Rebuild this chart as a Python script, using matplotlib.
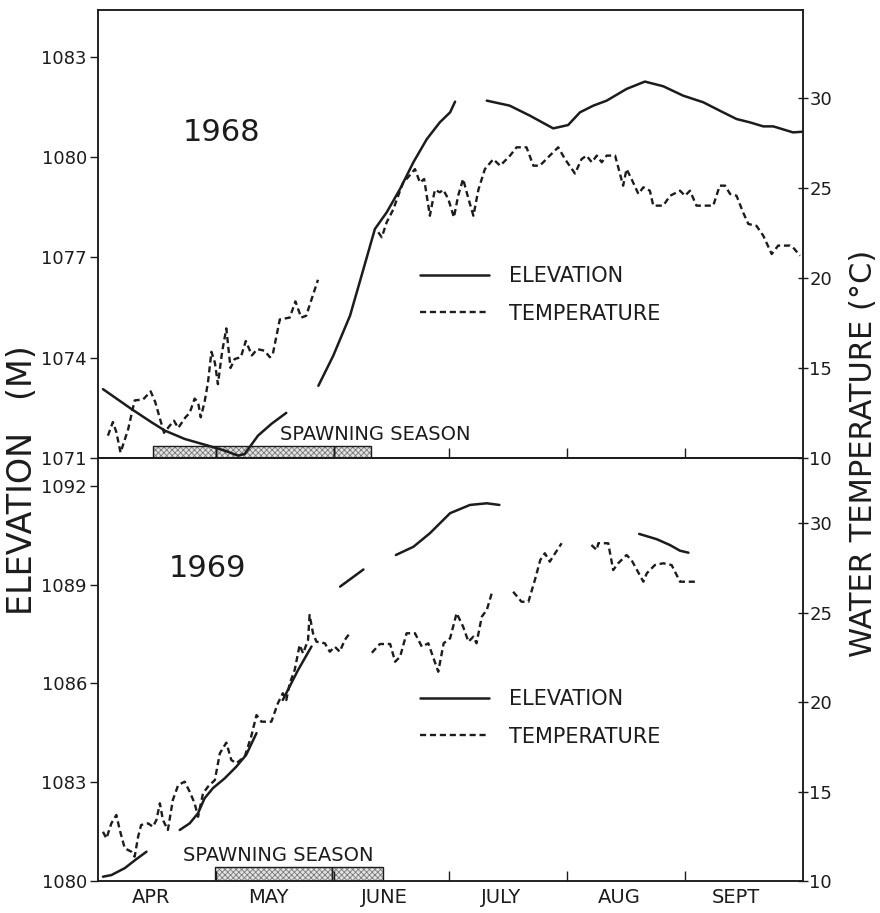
import numpy as np
import matplotlib
matplotlib.use("Agg")
import matplotlib.pyplot as plt

nan = np.nan

# x values: days after April 1
elev68_day = [0.5, 7.9, 13.2, 16.7, 21.9, 28.0, 32.4, 35.9, 37.6, 41.1, 44.6, 48.5, nan,
              56.9, 60.8, 65.2, 68.2, 71.7, 74.8, 78.3, 81.8, 85.3, 88.7, 91.4, 92.7, nan,
              101.0, 107.0, 112.3, 118.4, 122.3, 125.4, 128.9, 132.4, 137.6, 142.4,
              147.2, 152.4, 157.7, 162.0, 166.4, 169.9, 173.4, 176.0, 181.2, 183.7]
elev68 = [1073.06, 1072.47, 1072.07, 1071.82, 1071.57, 1071.37, 1071.22, 1071.07, 1071.12, 1071.67, 1072.02, 1072.35, nan,
          1073.16, 1074.06, 1075.26, 1076.45, 1077.85, 1078.35, 1079.05, 1079.85, 1080.54, 1081.04, 1081.34, 1081.66, nan,
          1081.69, 1081.54, 1081.24, 1080.86, 1080.96, 1081.34, 1081.54, 1081.69, 1082.04, 1082.26,
          1082.12, 1081.84, 1081.64, 1081.39, 1081.14, 1081.04, 1080.92, 1080.92, 1080.74, 1080.76]

temp68_day = [1.8, 3.1, 4.0, 5.1, 7.1, 8.8, 11.0, 13.0, 14.2, 15.4,
              16.5, 18.0, 19.1, 20.2, 22.1, 23.2, 24.5, 25.4, 26.1, 27.1,
              28.0, 28.9, 29.8, 30.6, 31.7, 32.8, 33.9, 35.0, 36.6, 37.9,
              39.5, 40.9, 42.8, 44.2, 45.0, 46.8, 49.4, 50.9, 52.4, 53.7,
              56.8, nan,
              72.6, 73.5, 74.8, 76.5, 77.8, 79.1, 80.4, 82.2, 83.5, 84.6,
              86.1, 87.4, 88.7, 89.6, 90.9, 92.4, 93.5, 94.8, 96.2, 97.5,
              98.8, 100.5, 102.7, 104.5, 107.1, 108.8, 111.4, 113.2, 114.9, 117.5,
              119.7, 121.5, 124.1, 125.8, 127.1, 128.5, 129.8, 131.1, 132.4, 134.6,
              136.7, 137.6, 138.9, 140.7, 142.0, 143.7, 144.6, 147.2, 149.0, 151.6,
              152.9, 154.2, 155.9, 160.3, 162.0, 163.4, 164.7, 166.4, 168.1, 169.5,
              171.6, 173.4, 175.6, 177.3, 180.4, 181.2, 183.0]
temp68 = [11.24, 12.0, 11.44, 10.3, 11.6, 13.2, 13.25, 13.7, 13.1, 12.2,
          11.4, 11.8, 12.07, 11.67, 12.26, 12.5, 13.3, 13.1, 12.26, 13.1,
          14.2, 15.9, 15.3, 14.1, 15.9, 17.2, 15.0, 15.5, 15.6, 16.5,
          15.7, 16.05, 15.96, 15.6, 15.8, 17.7, 17.8, 18.7, 17.8, 17.9,
          19.9, nan,
          22.54, 22.26, 23.1, 23.8, 24.57, 25.3, 25.6, 26.05, 25.3, 25.5,
          23.46, 24.9, 24.76, 24.9, 24.4, 23.37, 24.57, 25.5, 24.4, 23.46,
          24.9, 26.05, 26.6, 26.24, 26.8, 27.26, 27.26, 26.24, 26.24, 26.8,
          27.26, 26.6, 25.8, 26.6, 26.8, 26.43, 26.8, 26.43, 26.8, 26.8,
          25.13, 26.05, 25.5, 24.67, 25.04, 24.85, 24.02, 24.02, 24.57, 24.85,
          24.57, 24.85, 24.02, 24.02, 25.13, 25.13, 24.67, 24.57, 23.65, 23.0,
          22.9, 22.35, 21.33, 21.8, 21.8, 21.7, 21.24]

elev69_day = [0.5, 2.7, 6.2, 9.2, 11.9, nan,
              20.6, 23.2, 25.4, 27.1, 29.3, 32.4, 35.4, 38.0, 40.7, nan,
              47.6, 51.6, 55.1, nan,
              62.6, 68.7, nan,
              77.2, 81.8, 86.1, 91.4, 96.6, 101.0, 104.3, nan,
              140.9, 145.5, 149.0, 151.6, 153.8]
elev69 = [1080.13, 1080.18, 1080.39, 1080.66, 1080.89, nan,
          1081.55, 1081.75, 1082.06, 1082.51, 1082.82, 1083.12, 1083.47, 1083.83, 1084.49, nan,
          1085.5, 1086.41, 1087.12, nan,
          1088.94, 1089.46, nan,
          1089.9, 1090.15, 1090.56, 1091.17, 1091.42, 1091.47, 1091.42, nan,
          1090.54, 1090.38, 1090.2, 1090.03, 1089.97]

temp69_day = [0.5, 1.4, 2.7, 4.0, 4.9, 6.2, 7.9, 8.8, 9.7, 10.5,
              12.3, 13.6, 14.5, 15.4, 16.2, 17.5, 18.8, 20.2, 21.9, 23.2,
              24.5, 25.4, 26.7, 28.0, 29.8, 31.1, 32.8, 34.1, 35.4, 37.6,
              39.3, 40.7, 42.0, 44.6, 46.3, 47.6, 48.5, 49.4, 50.7, 52.0,
              52.9, 54.2, 54.6, 55.5, 56.4, 58.6, 59.9, 61.2, 62.5, 63.8,
              65.1, nan,
              70.9, 73.0, 75.7, 77.0, 78.3, 80.0, 82.2, 84.0, 85.7, 86.6,
              88.3, 89.7, 91.4, 93.1, 94.8, 96.2, 97.5, 98.3, 99.7, 101.0,
              102.3, nan,
              107.9, 110.1, 111.9, 113.6, 115.0, 116.2, 117.5, 118.9, 120.6, nan,
              128.4, 129.8, 130.2, 132.8, 134.1, 135.4, 137.6, 138.9, 142.0, 142.9,
              145.0, 147.2, 149.4, 151.6, 155.5]
temp69 = [12.75, 12.38, 13.22, 13.69, 12.85, 11.83, 11.64, 11.36, 12.47, 13.13,
          13.22, 13.03, 13.41, 14.34, 13.41, 12.85, 14.53, 15.36, 15.55, 14.99,
          14.34, 13.59, 14.9, 15.27, 15.64, 17.13, 17.73, 16.76, 16.58, 16.94,
          18.06, 19.27, 18.9, 18.9, 19.93, 20.49, 20.11, 21.04, 21.79, 23.18,
          22.72, 23.46, 24.86, 23.84, 23.37, 23.28, 22.81, 23.09, 22.81, 23.46,
          23.84, nan,
          22.75, 23.24, 23.24, 22.25, 22.53, 23.84, 23.84, 23.09, 23.28, 22.72,
          21.69, 23.28, 23.56, 24.96, 24.21, 23.37, 23.65, 23.28, 24.77, 25.14,
          26.07, nan,
          26.16, 25.6, 25.6, 26.82, 27.93, 28.31, 27.84, 28.31, 28.87, nan,
          28.77, 28.49, 28.87, 28.87, 27.37, 27.75, 28.21, 27.93, 26.72, 27.19,
          27.65, 27.75, 27.65, 26.72, 26.72]

month_names = ["APR", "MAY", "JUNE", "JULY", "AUG", "SEPT"]
month_lengths = [30, 31, 30, 31, 31, 30]

spawn68 = [(13.6, 30.0), (30.0, 61.0), (61.0, 70.7)]
spawn69 = [(29.8, 60.5), (60.5, 73.8)]

elev_ticks68 = [1071, 1074, 1077, 1080, 1083]
elev_ticks69 = [1080, 1083, 1086, 1089, 1092]
temp_ticks = [10, 15, 20, 25, 30]

# ---------------------------------------------------------------
INK = "#1c1c1c"
plt.rcParams["font.family"] = ["DejaVu Sans"]
plt.rcParams["hatch.linewidth"] = 0.6

W, H = 880, 913
fig = plt.figure(figsize=(W / 100, H / 100), dpi=100)
fig.patch.set_facecolor("white")

left = 98 / W
width = (803 - 98) / W
ax1 = fig.add_axes([left, 1 - 458 / H, width, (458 - 10) / H])
ax2 = fig.add_axes([left, 1 - 881 / H, width, (881 - 458) / H], sharex=ax1)

starts = np.concatenate([[0], np.cumsum(month_lengths)])
boundaries = starts[1:-1]
centers = (starts[:-1] + starts[1:]) / 2 - 1.8

dash = (2.6, 1.6)


def panel(ax, eday, elev, tday, temp, ylim_e, ylim_t, eticks, spawn, spawn_h,
          year, year_pos, spawn_text_pos, leg_anchor, show_months):
    axt = ax.twinx()
    ax.set_xlim(-0.8, 183.8)
    ax.set_ylim(*ylim_e)
    axt.set_ylim(*ylim_t)
    le, = ax.plot(eday, elev, color=INK, lw=1.8, solid_capstyle="round",
                  solid_joinstyle="round", label="ELEVATION", zorder=3)
    lt, = axt.plot(tday, temp, color=INK, lw=1.7, dashes=dash,
                   label="TEMPERATURE", zorder=3)
    for (a, b) in spawn:
        ax.axvspan(a, b, ymin=0, ymax=spawn_h, facecolor="#e2e2e2",
                   edgecolor="#7a7a7a", hatch="xxxxxx", lw=0, zorder=1)
        ax.axvspan(a, b, ymin=0, ymax=spawn_h, fill=False,
                   edgecolor=INK, lw=1.0, zorder=2)
    ax.set_yticks(eticks)
    ax.set_yticklabels([str(t) for t in eticks])
    axt.set_yticks(temp_ticks)
    axt.set_yticklabels([str(t) for t in temp_ticks])
    ax.tick_params(axis="y", direction="out", length=6, width=1.0,
                   labelsize=13, pad=2, colors=INK)
    axt.tick_params(axis="y", direction="inout", length=7, width=1.0,
                    labelsize=13, pad=1, colors=INK)
    ax.set_xticks(boundaries)
    ax.set_xticks(centers, minor=True)
    ax.tick_params(axis="x", which="major", direction="in", length=7,
                   width=1.0, labelbottom=False, colors=INK)
    ax.tick_params(axis="x", which="minor", length=0, pad=5,
                   labelsize=14, colors=INK, labelbottom=show_months)
    if show_months:
        ax.set_xticklabels(month_names, minor=True)
    for a in (ax, axt):
        for s in a.spines.values():
            s.set_linewidth(1.1)
            s.set_color(INK)
    ax.text(year_pos[0], year_pos[1], year, transform=ax.transAxes,
            fontsize=22, color=INK, ha="center", va="center")
    ax.text(spawn_text_pos[0], spawn_text_pos[1], "SPAWNING SEASON",
            transform=ax.transAxes, fontsize=14, color=INK,
            ha="left", va="center")
    leg = axt.legend(handles=[le, lt], loc="upper left",
                     bbox_to_anchor=leg_anchor, frameon=False,
                     fontsize=15, handlelength=3.3, handletextpad=0.95,
                     labelspacing=0.85, borderpad=0, borderaxespad=0)
    for t in leg.get_texts():
        t.set_color(INK)
    return axt


panel(ax1, elev68_day, elev68, temp68_day, temp68,
      (1071, 1071 + 448 / 33.43), (10, 10 + 448 / 18.0), elev_ticks68,
      spawn68, 12 / 448, "1968", ((221 - 98) / 705, (458 - 132) / 448),
      ((280 - 98) / 705, (458 - 434) / 448),
      ((420 - 98) / 705, (458 - 266) / 448), False)

panel(ax2, elev69_day, elev69, temp69_day, temp69,
      (1080, 1080 + 423 / 32.93), (10, 10 + 423 / 17.9), elev_ticks69,
      spawn69, 14 / 423, "1969", ((207 - 98) / 705, (881 - 568) / 423),
      ((183 - 98) / 705, (881 - 855) / 423),
      ((420 - 98) / 705, (881 - 689) / 423), True)

fig.text(22 / W, 1 - 480 / H, "ELEVATION   (M)", rotation=90, fontsize=24,
         color=INK, ha="center", va="center")
fig.text(863 / W, 1 - 453 / H, "WATER TEMPERATURE (\u00b0C)", rotation=90,
         fontsize=22, color=INK, ha="center", va="center")

fig.savefig("out.png", dpi=100, facecolor="white")
